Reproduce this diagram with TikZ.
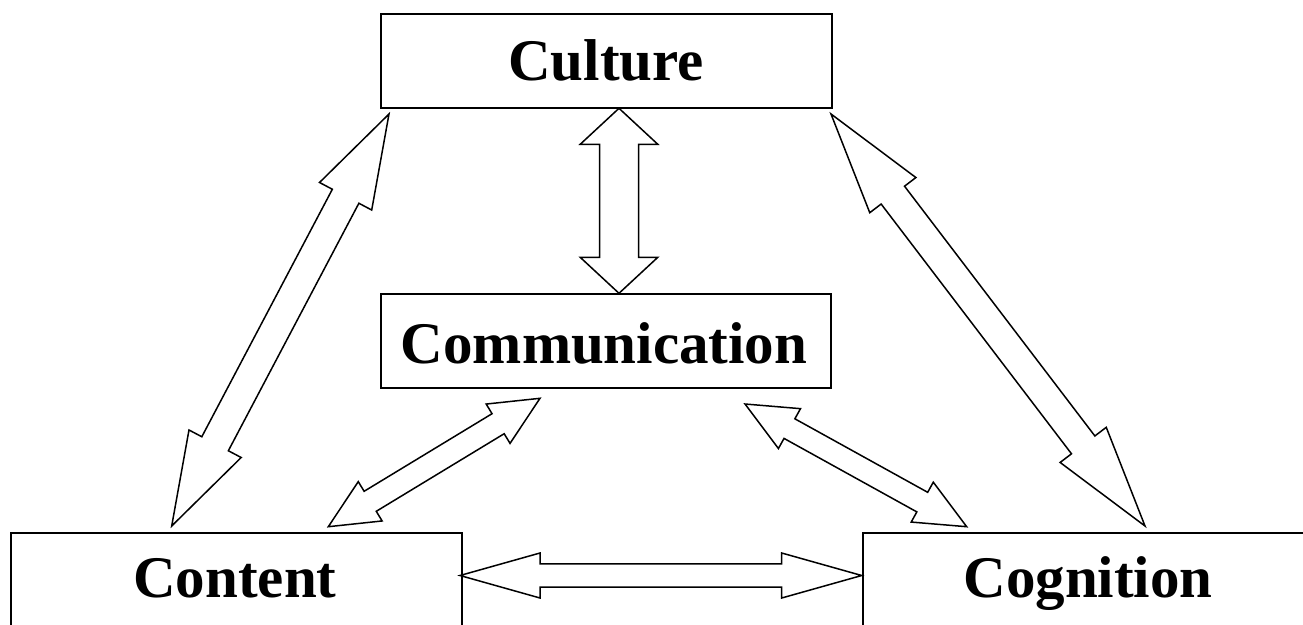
\documentclass[tikz,border=0pt]{standalone}
\usepackage{fontspec}
\setmainfont{Liberation Serif}
\usetikzlibrary{calc}
\tikzset{
  box/.style={draw, line width=2pt, inner sep=0pt, anchor=north west},
  lbl/.style={font=\fontsize{59}{70}\selectfont\bfseries, anchor=base, inner sep=0pt},
  barrow/.style={draw, line width=1.5pt, line join=miter, fill=white}
}
\newcommand\blockarr[5]{%
  \draw[barrow] (#1) -- ($(#1)!#3!(#2)!#4!90:(#2)$) -- ($(#1)!#3!(#2)!#5!90:(#2)$)
    -- ($(#2)!#3!(#1)!#5!-90:(#1)$) -- ($(#2)!#3!(#1)!#4!-90:(#1)$) -- (#2)
    -- ($(#2)!#3!(#1)!#4!90:(#1)$) -- ($(#2)!#3!(#1)!#5!90:(#1)$)
    -- ($(#1)!#3!(#2)!#5!-90:(#2)$) -- ($(#1)!#3!(#2)!#4!-90:(#2)$) -- cycle;}
\begin{document}
\begin{tikzpicture}[x=1pt, y=-1pt]
  \useasboundingbox (0,0) rectangle (1303,624);
  \clip (0,0) rectangle (1303,624);
  % boxes
  \node[box, minimum width=451pt, minimum height=94pt] (culture) at (380,13) {};
  \node[box, minimum width=450pt, minimum height=94pt] (comm) at (380,293) {};
  \node[box, minimum width=451pt, minimum height=150pt] (content) at (10,532) {};
  \node[box, minimum width=470pt, minimum height=150pt] (cognition) at (862,532) {};
  % labels
  \node[lbl] (culturetxt) at (606,80) {Culture};
  \node[lbl] (commtxt) at (604,363) {Communication};
  \node[lbl] (contenttxt) at (235,597) {Content};
  \node[lbl] (cognitiontxt) at (1088,597) {Cognition};
  % arrow end points
  \coordinate (lb) at (171.7,526);
  \coordinate (lt) at (389,114);
  \coordinate (rt) at (831,114);
  \coordinate (rb) at (1145,526);
  \coordinate (mlb) at (328.3,526.7);
  \coordinate (mlt) at (540,398.3);
  \coordinate (mrt) at (745,404);
  \coordinate (mrb) at (966.7,526.7);
  \coordinate (hl) at (460,575.5);
  \coordinate (hr) at (861.7,575.5);
  \coordinate (vt) at (619,108.3);
  \coordinate (vb) at (619,293.3);
  % arrows
  \blockarr{lb}{lt}{93pt}{29.5pt}{15pt}
  \blockarr{rt}{rb}{102pt}{29pt}{14.7pt}
  \blockarr{mlb}{mlt}{49pt}{23pt}{11.7pt}
  \blockarr{mrt}{mrb}{50.8pt}{22.8pt}{11.2pt}
  \blockarr{hl}{hr}{80pt}{22.5pt}{11.7pt}
  \blockarr{vt}{vb}{36pt}{38.8pt}{19.5pt}
\end{tikzpicture}
\end{document}
